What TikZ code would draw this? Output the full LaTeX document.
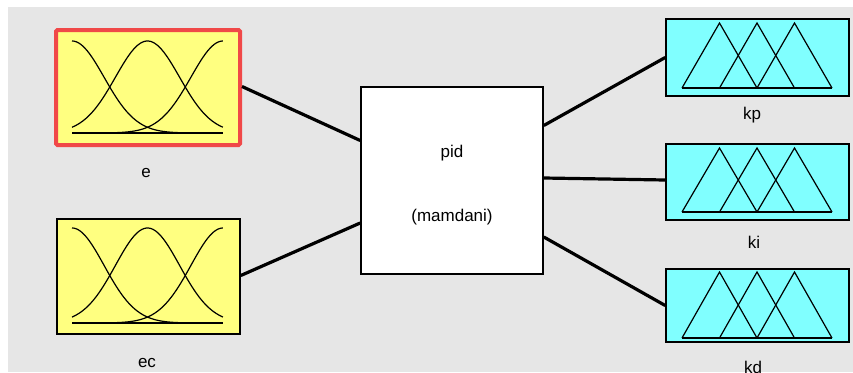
\documentclass[tikz,border=0pt]{standalone}
\usepackage{fontspec}
\setmainfont{Liberation Sans}
\usetikzlibrary{calc}
\definecolor{panelgray}{HTML}{E6E6E6}
\definecolor{inyellow}{HTML}{FFFF80}
\definecolor{outcyan}{HTML}{80FFFF}
\definecolor{selred}{HTML}{F04848}
\tikzset{
  varbox/.style={draw=black, line width=1.6pt, inner sep=0pt},
  inbox/.style={varbox, fill=inyellow},
  outbox/.style={varbox, fill=outcyan},
  rulebox/.style={varbox, fill=white},
  wire/.style={line width=3.2pt, black},
  mfcurve/.style={line width=1.2pt, black},
  varlabel/.style={font=\fontsize{17pt}{19pt}\selectfont, anchor=base, inner sep=0pt},
}
% three gaussian membership functions; #1 = left x, #2 = width, #3 = base y, #4 = height
\newcommand{\gaussset}[4]{%
  \foreach \c in {0,0.5,1}{%
    \draw[mfcurve] plot[domain=0:1, samples=70, smooth]
      ({#1+#2*\x},{#3-#4*exp(-((\x-\c)^2)/(2*0.2123*0.2123))});
  }
  \draw[mfcurve] (#1,#3) -- (#1+#2,#3);
}
% three triangular membership functions; #1 = apex y, #2 = base y
\newcommand{\triset}[2]{%
  \draw[mfcurve] (682,#2) -- (719.5,#1) -- (757,#2);
  \draw[mfcurve] (719.5,#2) -- (757,#1) -- (794.5,#2);
  \draw[mfcurve] (757,#2) -- (794.5,#1) -- (832,#2);
  \draw[mfcurve] (682,#2) -- (832,#2);
}
\begin{document}
\begin{tikzpicture}[x=1pt, y=-1pt]
  \useasboundingbox (0,0) rectangle (853,372);
  \clip (0,0) rectangle (853,372);
  \fill[white] (0,0) rectangle (853,372);
  \fill[panelgray] (8,7) rectangle (853,372);

  % input variables
  \node[inbox, draw=selred, line width=4pt, rounded corners=1.5pt,
        minimum width=184pt, minimum height=115pt] (e) at (148,87.5) {};
  \node[inbox, minimum width=183pt, minimum height=115pt] (ec) at (148.5,276.5) {};
  \gaussset{72}{151}{133}{92}
  \gaussset{72}{151}{323}{95}
  \node[varlabel] (elab) at (146,177) {e};
  \node[varlabel] (eclab) at (147,367) {ec};

  % rule block
  \node[rulebox, minimum width=182pt, minimum height=187pt] (pid) at (452,180.5) {};
  \node[varlabel] (pidname) at (452,157) {pid};
  \node[varlabel] (pidtype) at (452,221) {(mamdani)};

  % output variables
  \node[outbox, minimum width=183pt, minimum height=77pt] (kp) at (757.5,57.5) {};
  \node[outbox, minimum width=183pt, minimum height=76pt] (ki) at (757.5,182) {};
  \node[outbox, minimum width=183pt, minimum height=73pt] (kd) at (757.5,305.5) {};
  \triset{23}{88}
  \triset{148}{212}
  \triset{272}{338}
  \node[varlabel] (kplab) at (752,119) {kp};
  \node[varlabel] (kilab) at (754,248) {ki};
  \node[varlabel] (kdlab) at (753,373) {kd};

  % connections
  \draw[wire] ([yshift=1pt]e.east) -- ([yshift=40pt]pid.west);
  \draw[wire] ([yshift=1pt]ec.east) -- ([yshift=-42.5pt]pid.west);
  \draw[wire] ([yshift=55pt]pid.east) -- (kp.west);
  \draw[wire] ([yshift=2.5pt]pid.east) -- ([yshift=2pt]ki.west);
  \draw[wire] ([yshift=-56.5pt]pid.east) -- (kd.west);
\end{tikzpicture}
\end{document}
